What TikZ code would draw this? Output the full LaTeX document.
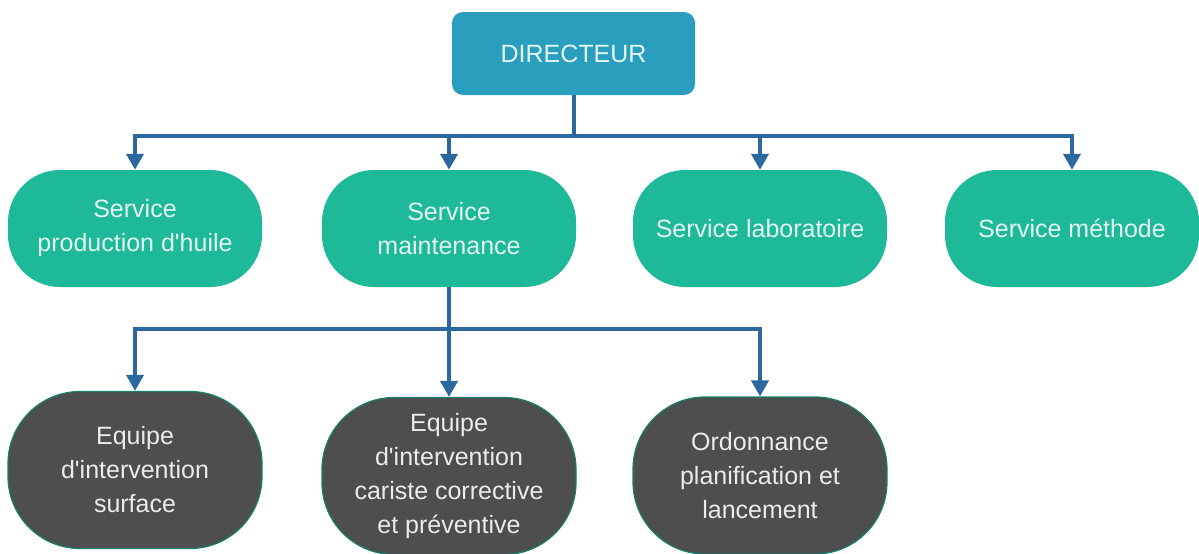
\documentclass[tikz,border=0pt]{standalone}
\usepackage{fontspec}
% plain family: keeps straight apostrophes
\newfontfamily\labelfont{Liberation Sans}
\usetikzlibrary{arrows.meta}
\definecolor{dirblue}{RGB}{42,158,190}
\definecolor{svcgreen}{RGB}{30,185,152}
\definecolor{teamgray}{RGB}{78,78,78}
\definecolor{linkblue}{RGB}{44,104,160}
\definecolor{lighttext}{RGB}{228,246,242}
\tikzset{
  lbl/.style={font=\labelfont\fontsize{25}{34}\selectfont, align=center, inner sep=0pt},
  director/.style={lbl, fill=dirblue, text=lighttext, rounded corners=11pt,
    minimum width=243pt, minimum height=83pt},
  service/.style={lbl, fill=svcgreen, text=lighttext, rounded corners=52pt,
    minimum width=254pt, minimum height=117pt},
  team/.style={lbl, fill=teamgray, draw=svcgreen!70!black, line width=1.2pt,
    text=white!92!black, rounded corners=72pt,
    minimum width=254pt, minimum height=157pt},
  link/.style={draw=linkblue, line width=4pt},
  arrowlink/.style={link, -{Triangle[width=17pt,length=16pt]}},
}
\begin{document}
\begin{tikzpicture}[x=1pt, y=-1pt]
  \useasboundingbox (0,0) rectangle (1199,554);

  % top of the hierarchy
  \node[director] (dir) at (573.5,53.5) {DIRECTEUR};

  % services
  \node[service] (prod)  at (135,228.5) {Service\\production d'huile};
  \node[service] (maint) at (449,228.5) {Service\\maintenance};
  \node[service] (labo)  at (760,228.5) {Service laboratoire};
  \node[service] (meth)  at (1072,228.5) {Service méthode};

  % maintenance teams
  \node[team] (surf) at (135,470) {Equipe\\d'intervention\\surface};
  \node[team] (car)  at (449,476) {Equipe\\d'intervention\\cariste corrective\\et préventive};
  \node[team] (ord)  at (760,475.5) {Ordonnance\\planification et\\lancement};

  % bus lines
  \coordinate (bustop) at (573.5,136);
  \coordinate (busmid) at (449,329);

  \draw[link] (dir.south) -- (bustop);
  \draw[arrowlink] (bustop) -| (prod.north);
  \draw[arrowlink] (bustop) -| (maint.north);
  \draw[arrowlink] (bustop) -| (labo.north);
  \draw[arrowlink] (bustop) -| (meth.north);

  \draw[link] (maint.south) -- (busmid);
  \draw[arrowlink] (busmid) -| (surf.north);
  \draw[arrowlink] (busmid) -- (car.north);
  \draw[arrowlink] (busmid) -| (ord.north);
\end{tikzpicture}
\end{document}
